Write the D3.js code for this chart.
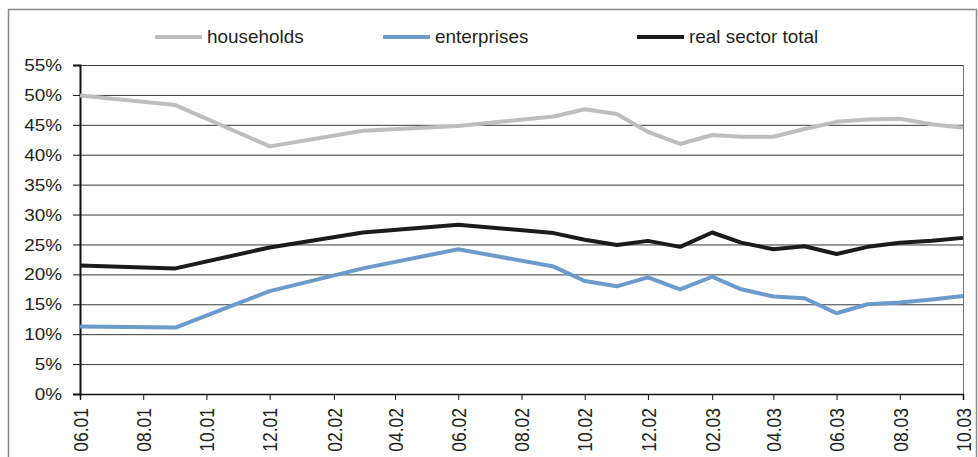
<!DOCTYPE html>
<html>
<head>
<meta charset="utf-8">
<script src="https://cdn.jsdelivr.net/npm/d3@7"></script>
<style>
  body { margin: 0; background: #fff; }
  text { font-family: "Liberation Sans", Arial, sans-serif; fill: #231f20; }
</style>
</head>
<body>
<svg width="978" height="457"></svg>
<script>
// The data (share of loans, %):
const months = ["06.01", "09.01", "12.01", "03.02", "06.02", "09.02", "10.02", "11.02", "12.02",
  "01.03", "02.03", "03.03", "04.03", "05.03", "06.03", "07.03", "08.03", "09.03", "10.03"]
const households = [49.9, 48.3, 41.4, 44.0, 44.8, 46.4, 47.6, 46.8, 43.8,
  41.8, 43.3, 43.0, 43.0, 44.3, 45.5, 45.9, 46.0, 45.1, 44.5]
const enterprises = [11.3, 11.1, 17.2, 21.0, 24.2, 21.3, 18.9, 18.0, 19.5,
  17.5, 19.6, 17.5, 16.3, 16.0, 13.5, 15.0, 15.3, 15.8, 16.4]
const realSector = [21.5, 21.0, 24.5, 27.0, 28.3, 26.9, 25.8, 24.9, 25.6,
  24.6, 27.0, 25.3, 24.2, 24.7, 23.4, 24.6, 25.3, 25.6, 26.1]
const tickLabels = ["06.01", "08.01", "10.01", "12.01", "02.02", "04.02", "06.02", "08.02",
  "10.02", "12.02", "02.03", "04.03", "06.03", "08.03", "10.03"]
const yTicks = [0, 5, 10, 15, 20, 25, 30, 35, 40, 45, 50, 55]

const seriesNames = ["households", "enterprises", "real sector total"]
const seriesValues = [households, enterprises, realSector]
const seriesColors = ["#bebebe", "#6b9bcb", "#1c1a1b"]

const parse = d3.timeParse("%m.%y")
const fmt = d3.timeFormat("%m.%y")
const stretch = 1.18 // text in the picture is a bit wider than tall

const svg = d3.select("svg")

// outer frame
svg.append("rect")
  .attr("x", 8.5).attr("y", 9.5).attr("width", 968).attr("height", 470)
  .attr("fill", "none").attr("stroke", "#8a8a8a").attr("stroke-width", 1.5)

const plotLeft = 80, plotRight = 963, plotTop = 65, plotBottom = 394

let xScale = d3.scaleTime().domain([parse("06.01"), parse("10.03")]).range([plotLeft, plotRight])
let yScale = d3.scaleLinear().domain([0, 55]).range([plotBottom, plotTop])

// gridlines
svg.append("g").selectAll("line")
  .data(yTicks.filter((d) => d > 0))
  .enter().append("line")
  .attr("x1", plotLeft).attr("x2", plotRight)
  .attr("y1", (d) => yScale(d) + 0.5).attr("y2", (d) => yScale(d) + 0.5)
  .attr("stroke", "#3a3a3a").attr("stroke-width", 1)

// right border of plot
svg.append("line")
  .attr("x1", plotRight + 0.5).attr("x2", plotRight + 0.5).attr("y1", plotTop).attr("y2", plotBottom)
  .attr("stroke", "#777").attr("stroke-width", 1)

// y-axis
let yAxis = d3.axisLeft(yScale).tickValues(yTicks).tickSize(7).tickFormat((d) => d + "%")
let yAxisG = svg.append("g").attr("transform", `translate(${plotLeft},0)`).call(yAxis)
yAxisG.select(".domain").attr("stroke", "#111").attr("stroke-width", 2)
yAxisG.selectAll(".tick line").attr("stroke", "#111").attr("stroke-width", 1)
yAxisG.selectAll(".tick text").remove()
yAxisG.selectAll(".tick").append("text")
  .attr("transform", `translate(-18,0) scale(${stretch},1)`)
  .attr("dy", "0.35em").attr("text-anchor", "end")
  .style("font-size", "16px").style("fill", "#231f20")
  .text((d) => d + "%")

// x-axis
let xAxis = d3.axisBottom(xScale).tickValues(tickLabels.map(parse)).tickSize(6).tickFormat(fmt)
let xAxisG = svg.append("g").attr("transform", `translate(0,${plotBottom})`).call(xAxis)
xAxisG.select(".domain").attr("stroke", "#111").attr("stroke-width", 1.5)
xAxisG.selectAll(".tick line").attr("stroke", "#111")
xAxisG.selectAll(".tick text").remove()
xAxisG.selectAll(".tick").append("text")
  .attr("transform", `translate(0,14) scale(${stretch},1) rotate(-90)`)
  .attr("dy", "0.35em").attr("text-anchor", "end")
  .style("font-size", "17.5px").style("fill", "#231f20")
  .text(fmt)

// lines
let line = d3.line()
  .x((d, i) => xScale(parse(months[i])))
  .y((d) => yScale(d))

svg.append("g").selectAll("path")
  .data(seriesValues)
  .enter().append("path")
  .attr("d", line)
  .attr("fill", "none")
  .attr("stroke", (d, i) => seriesColors[i])
  .attr("stroke-width", 4)
  .attr("stroke-linejoin", "round")

// legend
const legendX = [155, 383, 637]
let legend = svg.append("g").selectAll("g")
  .data(seriesNames)
  .enter().append("g")
  .attr("transform", (d, i) => `translate(${legendX[i]},37)`)
legend.append("line")
  .attr("x1", 0).attr("x2", 47).attr("y1", 0).attr("y2", 0)
  .attr("stroke", (d, i) => seriesColors[i]).attr("stroke-width", 4)
legend.append("text")
  .attr("transform", `translate(52,0) scale(1.08,1)`)
  .attr("dy", "0.35em")
  .style("font-size", "17.5px")
  .text((d) => d)
</script>
</body>
</html>
